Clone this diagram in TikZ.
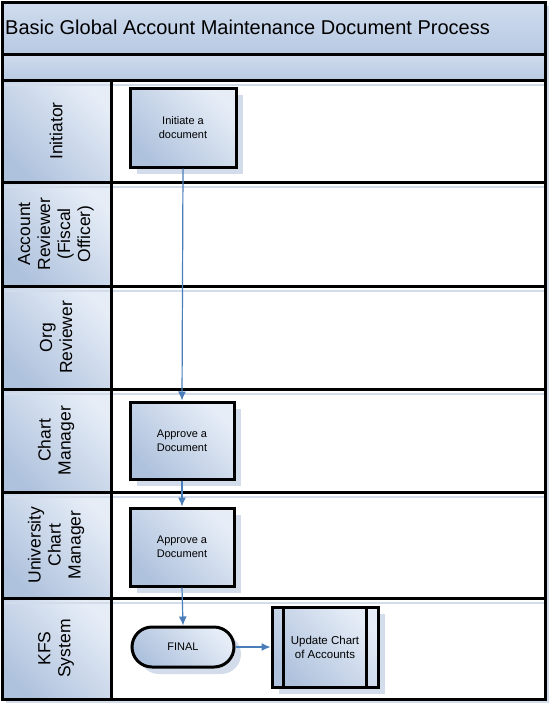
\documentclass[tikz,border=0pt]{standalone}
\usepackage{fontspec}
\setmainfont{Liberation Sans}
\usetikzlibrary{arrows.meta,shapes.misc,shadows}
\definecolor{shadowc}{HTML}{D3DCEA}
\definecolor{lightc}{HTML}{E6EDF7}
\definecolor{darkc}{HTML}{AFC2DD}
\definecolor{bandtop}{HTML}{D0DCEE}
\definecolor{bandbot}{HTML}{B7C9E2}
\definecolor{flowc}{HTML}{4A7EBB}
\begin{document}
\begin{tikzpicture}[x=1pt,y=-1pt,
  frameline/.style={draw=black, line width=3pt},
  cellshade/.style={left color=lightc, right color=darkc, shading angle=-45},
  procbox/.style={draw=black, line width=3pt, left color=lightc, right color=darkc, shading angle=-45,
    align=center, font=\fontsize{11}{14}\selectfont, inner sep=2pt,
    general shadow={fill=shadowc, shadow xshift=7pt, shadow yshift=-7pt}},
  lanelabel/.style={rotate=90, align=center, font=\fontsize{17.5}{20}\selectfont},
  flow/.style={draw=flowc, line width=1.2pt, -{Latex[length=9pt,width=8pt]}},
  laneshadow/.style={draw=shadowc, line width=2.5pt}]
\useasboundingbox (0,0) rectangle (553,707);
% frame shadow and background
\fill[shadowc] (6,6) rectangle (549,703);
\fill[white] (2,2) rectangle (545,699);
% title bands
\shade[top color=bandtop, bottom color=bandbot] (2,2) rectangle (545,54);
\shade[top color=bandtop, bottom color=bandbot] (2,54) rectangle (545,80);
% lane label cells
\foreach \ya/\yb in {80/182,182/286,286/389,389/492,492/598,598/699}{
  \shade[cellshade] (2,\ya) rectangle (111,\yb);
}
% lane shadows
\foreach \ys in {80,182,286,389,492,598}{
  \draw[laneshadow] (5,\ys+5) -- (545,\ys+5);
}
% frame lines
\draw[frameline] (2,2) rectangle (545,699);
\foreach \ys in {54,80,182,286,389,492,598}{
  \draw[frameline] (2,\ys) -- (545,\ys);
}
\draw[frameline] (111,80) -- (111,699);
% title
\node[anchor=west, font=\fontsize{20}{24}\selectfont, inner sep=0pt] (title) at (5,27) {Basic Global Account Maintenance Document Process};
% lane labels
\node[lanelabel] (l1) at (56,131) {Initiator};
\node[lanelabel] (l2) at (56,234) {Account\\Reviewer\\(Fiscal\\Officer)};
\node[lanelabel] (l3) at (56,337.5) {Org\\Reviewer};
\node[lanelabel] (l4) at (56,440.5) {Chart\\Manager};
\node[lanelabel] (l5) at (56,545) {University\\Chart\\Manager};
\node[lanelabel] (l6) at (56,648.5) {KFS\\System};
% process boxes
\node[procbox, minimum width=106pt, minimum height=79pt] (init) at (183,127.5) {Initiate a\\document};
\node[procbox, minimum width=104pt, minimum height=77pt] (app1) at (182,440.5) {Approve a\\Document};
\node[procbox, minimum width=104pt, minimum height=78pt] (app2) at (182,547) {Approve a\\Document};
\node[procbox, rounded rectangle, minimum width=106pt, minimum height=40pt] (final) at (183,647) {FINAL};
\node[procbox, minimum width=106pt, minimum height=80pt, font=\fontsize{11.5}{14}\selectfont] (upd) at (325,647) {Update Chart\\of Accounts};
\draw[line width=2.5pt] ([xshift=13pt]upd.north west) -- ([xshift=13pt]upd.south west);
\draw[line width=2.5pt] ([xshift=-13pt]upd.north east) -- ([xshift=-13pt]upd.south east);
% connectors
\draw[flow] (init.south) -- (app1.north);
\draw[flow] (app1.south) -- (app2.north);
\draw[flow] (app2.south) -- (final.north);
\draw[flow] (final.east) -- (upd.west);
\end{tikzpicture}
\end{document}
